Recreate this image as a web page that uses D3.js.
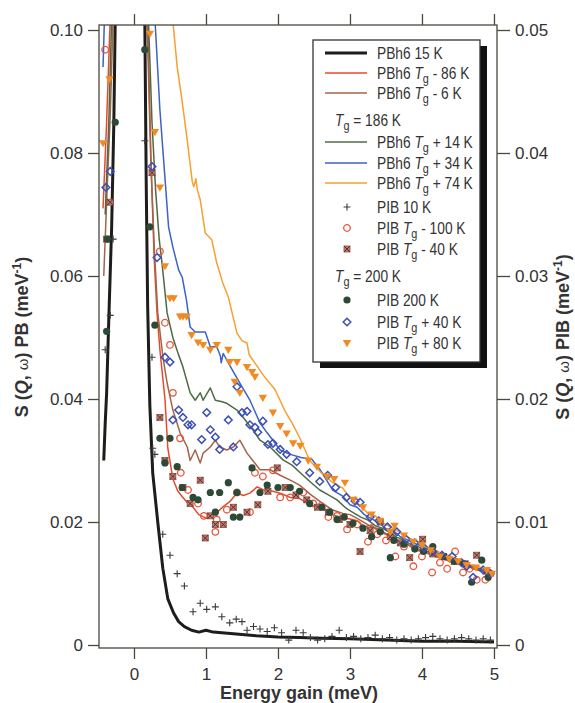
<!DOCTYPE html>
<html><head><meta charset="utf-8">
<script src="https://cdn.jsdelivr.net/npm/d3@7"></script>
<style>
html,body{margin:0;padding:0;background:#fff;}
svg{display:block;}
text{font-family:"Liberation Sans",Arial,sans-serif;fill:#333;}
</style></head>
<body>
<svg id="c" width="575" height="703"></svg>
<script>
// ---------- tick values ----------
const xTicks = [0, 1, 2, 3, 4, 5];
const yLeftTicks = [0, 0.02, 0.04, 0.06, 0.08, 0.10];
const yRightTicks = [0, 0.01, 0.02, 0.03, 0.04, 0.05];
const yLeftTickLabels = ["0", "0.02", "0.04", "0.06", "0.08", "0.10"];
const yRightTickLabels = ["0", "0.01", "0.02", "0.03", "0.04", "0.05"];

// ---------- PBh6 line series (left axis, meV^-1) ----------
const pb15K_left = [[-0.42,0.030],[-0.40,0.036],[-0.38,0.041],[-0.35,0.053],[-0.31,0.068],[-0.28,0.085],[-0.26,0.102]];
const pb15K_right = [[0.15,0.102],[0.17,0.075],[0.19,0.055],[0.22,0.039],[0.26,0.028],[0.33,0.020],[0.40,0.0125],[0.47,0.0075],[0.55,0.0052],[0.62,0.0038],[0.70,0.0030],[0.80,0.0024],[0.90,0.0021],[1.0,0.0024],[1.1,0.0021],[1.3,0.0019],[1.5,0.0017],[1.7,0.0015],[2.0,0.0013],[2.3,0.0012],[2.6,0.0011],[3.0,0.0010],[3.5,0.0008],[4.0,0.0006],[4.5,0.0006],[5.0,0.0005]];

const pbTgm86_left = [[-0.43,0.071],[-0.38,0.085],[-0.33,0.102]];
const pbTgm86_right = [[0.19,0.102],[0.24,0.077],[0.28,0.063],[0.32,0.054],[0.36,0.048],[0.43,0.040],[0.47,0.032],[0.54,0.027],[0.61,0.025],[0.68,0.024],[0.75,0.023],[0.82,0.0224],[0.90,0.0212],[1.01,0.0206],[1.08,0.0210],[1.15,0.0215],[1.24,0.0225],[1.33,0.0233],[1.43,0.0247],[1.52,0.0243],[1.61,0.0247],[1.71,0.0257],[1.80,0.0252],[1.93,0.0250],[2.05,0.0246],[2.17,0.0240],[2.30,0.0238],[2.45,0.0228],[2.60,0.0222],[2.75,0.0212],[2.90,0.0207],[3.0,0.0205],[3.1,0.0202],[3.2,0.0192],[3.3,0.0195],[3.4,0.0184],[3.5,0.0180],[3.6,0.0172],[3.7,0.0168],[3.8,0.0164],[3.9,0.0155],[4.0,0.0152],[4.1,0.0148],[4.2,0.0145],[4.3,0.0139],[4.4,0.0136],[4.5,0.0131],[4.6,0.0133],[4.7,0.0124],[4.8,0.0121],[4.9,0.0117],[5.0,0.0112]];

const pbTgm6_left = [[-0.42,0.060],[-0.37,0.075],[-0.33,0.086],[-0.29,0.102]];
const pbTgm6_right = [[0.18,0.102],[0.23,0.080],[0.28,0.065],[0.33,0.054],[0.40,0.047],[0.46,0.0426],[0.54,0.0382],[0.64,0.0345],[0.74,0.0322],[0.78,0.0300],[0.85,0.0317],[0.92,0.0296],[0.96,0.0312],[1.06,0.0322],[1.13,0.0333],[1.19,0.0322],[1.29,0.0317],[1.38,0.0322],[1.47,0.0333],[1.57,0.0312],[1.65,0.0300],[1.75,0.0285],[1.89,0.0285],[2.03,0.0276],[2.17,0.0268],[2.30,0.0260],[2.45,0.0245],[2.60,0.0232],[2.75,0.0220],[2.90,0.0214],[3.0,0.0212],[3.1,0.0206],[3.2,0.0199],[3.3,0.0192],[3.4,0.0189],[3.5,0.0181],[3.6,0.0176],[3.7,0.0167],[3.8,0.0163],[3.9,0.0158],[4.0,0.0154],[4.1,0.0149],[4.2,0.0143],[4.3,0.0141],[4.4,0.0135],[4.5,0.0132],[4.6,0.0128],[4.7,0.0126],[4.8,0.0121],[4.9,0.0118],[5.0,0.0116]];

const pbTgp14_left = [[-0.40,0.070],[-0.35,0.085],[-0.31,0.102]];
const pbTgp14_right = [[0.20,0.102],[0.25,0.085],[0.30,0.074],[0.35,0.066],[0.39,0.062],[0.46,0.054],[0.54,0.050],[0.61,0.0475],[0.68,0.0452],[0.78,0.0410],[0.85,0.0398],[0.92,0.0410],[0.96,0.0398],[1.06,0.0418],[1.13,0.0398],[1.21,0.0396],[1.29,0.0393],[1.43,0.0382],[1.51,0.0371],[1.65,0.0350],[1.75,0.0333],[1.89,0.0322],[2.07,0.0301],[2.20,0.0292],[2.31,0.0280],[2.45,0.0265],[2.58,0.0252],[2.70,0.0244],[2.82,0.0236],[2.95,0.0222],[3.05,0.0215],[3.15,0.0208],[3.25,0.0203],[3.35,0.0194],[3.45,0.0190],[3.55,0.0183],[3.65,0.0175],[3.75,0.0171],[3.85,0.0163],[3.95,0.0160],[4.05,0.0153],[4.15,0.0150],[4.25,0.0144],[4.35,0.0141],[4.45,0.0135],[4.55,0.0133],[4.65,0.0127],[4.75,0.0126],[4.85,0.0121],[4.95,0.0119]];

const pbTgp34_left = [[-0.43,0.094],[-0.41,0.102]];
const pbTgp34_right = [[0.29,0.102],[0.36,0.087],[0.43,0.076],[0.48,0.068],[0.54,0.0647],[0.62,0.0610],[0.67,0.0598],[0.73,0.0560],[0.78,0.0517],[0.85,0.0509],[0.99,0.0509],[1.06,0.0485],[1.15,0.0485],[1.20,0.0470],[1.21,0.0459],[1.24,0.0474],[1.29,0.0463],[1.47,0.0426],[1.61,0.0398],[1.75,0.0361],[1.85,0.0345],[1.93,0.0333],[2.03,0.0317],[2.17,0.0310],[2.32,0.0305],[2.47,0.0302],[2.58,0.0286],[2.76,0.0252],[2.90,0.0242],[3.0,0.0228],[3.1,0.0224],[3.2,0.0212],[3.3,0.0205],[3.4,0.0199],[3.5,0.0189],[3.6,0.0186],[3.7,0.0176],[3.8,0.0171],[3.9,0.0165],[4.0,0.0161],[4.1,0.0154],[4.2,0.0150],[4.3,0.0146],[4.4,0.0141],[4.5,0.0137],[4.6,0.0132],[4.7,0.0128],[4.8,0.0124],[4.9,0.0121],[5.0,0.0118]];

const pbTgp74_right = [[0.535,0.102],[0.60,0.094],[0.67,0.0883],[0.74,0.0820],[0.81,0.0753],[0.83,0.0745],[0.86,0.0758],[0.88,0.0740],[0.92,0.0724],[0.99,0.0670],[1.08,0.0659],[1.15,0.0621],[1.23,0.0590],[1.31,0.0566],[1.43,0.0507],[1.50,0.0495],[1.57,0.0491],[1.60,0.0472],[1.70,0.0455],[1.80,0.0438],[1.96,0.0415],[2.10,0.0380],[2.20,0.0360],[2.31,0.0335],[2.44,0.0300],[2.60,0.0280],[2.75,0.0265],[2.90,0.0255],[3.05,0.0232],[3.15,0.0226],[3.25,0.0214],[3.35,0.0210],[3.45,0.0199],[3.55,0.0193],[3.65,0.0186],[3.75,0.0180],[3.85,0.0172],[3.95,0.0168],[4.05,0.0160],[4.15,0.0157],[4.25,0.0150],[4.35,0.0147],[4.45,0.0140],[4.55,0.0137],[4.65,0.0131],[4.75,0.0129],[4.85,0.0124],[4.95,0.0121],[5.0,0.0118]];

// ---------- PIB marker series (right axis, meV^-1) ----------
const pib10K = [[-0.40,0.0240],[-0.33,0.0268],[-0.29,0.0330],[0.15,0.0410],[0.25,0.0234],[0.26,0.0160],[0.29,0.0155],[0.40,0.0090],[0.50,0.0073],[0.60,0.0058],[0.70,0.0048],[0.82,0.0027],[0.92,0.0034],[1.01,0.0029],[1.13,0.0031],[1.22,0.0023],[1.33,0.0018],[1.42,0.0021],[1.50,0.0019],[1.57,0.0012],[1.66,0.0015],[1.75,0.0013],[1.85,0.0011],[1.95,0.0014],[2.05,0.0010],[2.15,0.0004],[2.25,0.0012],[2.35,0.0010],[2.45,0.0006],[2.55,0.0004],[2.65,0.0005],[2.75,0.0007],[2.85,0.0012],[2.95,0.0006],[3.05,0.0007],[3.15,0.0005],[3.25,0.0006],[3.35,0.0008],[3.45,0.0005],[3.55,0.0006],[3.65,0.0004],[3.75,0.0005],[3.85,0.0004],[3.95,0.0005],[4.05,0.0006],[4.15,0.0007],[4.25,0.0005],[4.35,0.0004],[4.45,0.0005],[4.55,0.0006],[4.65,0.0005],[4.75,0.0004],[4.85,0.0005],[4.95,0.0004]];

const pibTgm100 = [[-0.40,0.0484],[0.36,0.0320],[0.43,0.0262],[0.50,0.0244],[0.54,0.0205],[0.64,0.0168],[0.65,0.0140],[0.75,0.0126],[0.89,0.0115],[0.97,0.0105],[1.13,0.0092],[1.15,0.0102],[1.29,0.0110],[1.43,0.0124],[1.61,0.0108],[1.68,0.0140],[1.79,0.0137],[1.93,0.0142],[2.03,0.0120],[2.17,0.0120],[2.35,0.0124],[2.49,0.0115],[2.60,0.0113],[2.70,0.0104],[2.82,0.0105],[2.96,0.0094],[3.10,0.0098],[3.25,0.0084],[3.38,0.0090],[3.50,0.0085],[3.63,0.0072],[3.75,0.0080],[3.88,0.0064],[4.00,0.0072],[4.14,0.0059],[4.25,0.0067],[4.35,0.0062],[4.46,0.0076],[4.57,0.0059],[4.66,0.0062],[4.76,0.0053],[4.88,0.0053],[4.95,0.0058]];

const pibTgm40 = [[-0.38,0.0330],[-0.33,0.0360],[0.25,0.0384],[0.36,0.0185],[0.43,0.0150],[0.54,0.0137],[0.68,0.0128],[0.78,0.0115],[0.92,0.0134],[0.99,0.0087],[1.06,0.0105],[1.13,0.0098],[1.24,0.0098],[1.38,0.0112],[1.57,0.0108],[1.72,0.0114],[1.86,0.0125],[1.99,0.0144],[2.10,0.0128],[2.25,0.0122],[2.40,0.0118],[2.55,0.0112],[2.70,0.0108],[2.85,0.0102],[3.00,0.0098],[3.14,0.0076],[3.28,0.0093],[3.42,0.0100],[3.56,0.0088],[3.70,0.0083],[3.83,0.0071],[4.01,0.0086],[4.15,0.0074],[4.30,0.0072],[4.45,0.0068],[4.60,0.0066],[4.76,0.0073],[4.90,0.0060]];

const pib200K = [[-0.38,0.0255],[-0.37,0.0330],[-0.26,0.0425],[0.15,0.0484],[0.22,0.0340],[0.29,0.0260],[0.36,0.0168],[0.43,0.0148],[0.50,0.0168],[0.60,0.0145],[0.67,0.0128],[0.82,0.0120],[0.89,0.0118],[1.06,0.0124],[1.13,0.0108],[1.19,0.0124],[1.31,0.0132],[1.38,0.0104],[1.43,0.0124],[1.47,0.0104],[1.64,0.0144],[1.75,0.0124],[1.85,0.0130],[2.00,0.0128],[2.17,0.0128],[2.30,0.0125],[2.44,0.0115],[2.61,0.0112],[2.72,0.0108],[2.82,0.0102],[2.92,0.0104],[3.04,0.0099],[3.18,0.0095],[3.30,0.0088],[3.42,0.0092],[3.56,0.0071],[3.61,0.0085],[3.75,0.0082],[3.90,0.0078],[4.02,0.0076],[4.15,0.0080],[4.30,0.0072],[4.45,0.0068],[4.58,0.0066],[4.69,0.0051],[4.83,0.0069],[4.92,0.0055]];

const pibTgp40 = [[-0.39,0.0372],[-0.33,0.0385],[0.25,0.0389],[0.32,0.0315],[0.43,0.0234],[0.50,0.0230],[0.54,0.0183],[0.62,0.0191],[0.68,0.0185],[0.75,0.0179],[0.80,0.0179],[0.94,0.0167],[1.01,0.0189],[1.06,0.0175],[1.13,0.0169],[1.19,0.0159],[1.31,0.0183],[1.38,0.0161],[1.43,0.0210],[1.50,0.0189],[1.57,0.0190],[1.61,0.0179],[1.68,0.0177],[1.72,0.0173],[1.79,0.0182],[1.86,0.0163],[1.93,0.0164],[2.03,0.0159],[2.12,0.0155],[2.26,0.0149],[2.44,0.0140],[2.58,0.0133],[2.69,0.0138],[2.80,0.0128],[2.95,0.0120],[3.07,0.0117],[3.14,0.0116],[3.28,0.0104],[3.40,0.0101],[3.52,0.0096],[3.65,0.0092],[3.78,0.0086],[3.90,0.0083],[4.03,0.0079],[4.15,0.0076],[4.28,0.0073],[4.42,0.0072],[4.55,0.0067],[4.62,0.0064],[4.71,0.0055],[4.85,0.0061],[4.95,0.0058]];

const pibTgp80 = [[-0.43,0.0408],[-0.34,0.0460],[0.22,0.0497],[0.29,0.0417],[0.36,0.0372],[0.43,0.0308],[0.50,0.0282],[0.55,0.0282],[0.64,0.0267],[0.68,0.0267],[0.73,0.0267],[0.80,0.0252],[0.89,0.0246],[0.96,0.0244],[1.06,0.0240],[1.15,0.0244],[1.31,0.0240],[1.33,0.0230],[1.40,0.0214],[1.43,0.0230],[1.47,0.0205],[1.57,0.0226],[1.64,0.0222],[1.68,0.0218],[1.79,0.0201],[1.93,0.0189],[2.03,0.0178],[2.12,0.0172],[2.21,0.0164],[2.31,0.0162],[2.42,0.0150],[2.54,0.0145],[2.68,0.0137],[2.78,0.0135],[2.93,0.0132],[3.05,0.0118],[3.18,0.0112],[3.30,0.0106],[3.42,0.0101],[3.56,0.0092],[3.62,0.0097],[3.75,0.0089],[3.88,0.0084],[4.00,0.0081],[4.12,0.0077],[4.25,0.0072],[4.38,0.0070],[4.50,0.0068],[4.62,0.0065],[4.75,0.0063],[4.90,0.0061],[4.97,0.0058]];

// ---------- scales ----------
const svg = d3.select("#c");
const x = d3.scaleLinear().domain([-0.486, 5.042]).range([99, 497]);
const yL = d3.scaleLinear().domain([0, 0.1]).range([645, 30]);
const yR = d3.scaleLinear().domain([0, 0.05]).range([645, 30]);
const frame = {x0: 99, x1: 497, y0: 25, y1: 648};

svg.append("defs").append("clipPath").attr("id", "clip")
  .append("rect").attr("x", frame.x0).attr("y", frame.y0)
  .attr("width", frame.x1 - frame.x0).attr("height", frame.y1 - frame.y0);

const plot = svg.append("g").attr("clip-path", "url(#clip)");
const lineL = d3.line().x(d => x(d[0])).y(d => yL(d[1]));

const colored = [
  [pbTgm86_left, pbTgm86_right, "#e64a2e"],
  [pbTgm6_left, pbTgm6_right, "#a3644a"],
  [pbTgp14_left, pbTgp14_right, "#4e6a44"],
  [pbTgp34_left, pbTgp34_right, "#3c62c6"],
  [null, pbTgp74_right, "#f5a030"]
];
colored.forEach(([l, r, c]) => {
  [l, r].forEach(arr => {
    if (!arr) return;
    plot.append("path").datum(arr).attr("d", lineL)
      .attr("fill", "none").attr("stroke", c).attr("stroke-width", 1.5)
      .attr("stroke-linejoin", "round");
  });
});
[pb15K_left, pb15K_right].forEach(arr => {
  plot.append("path").datum(arr).attr("d", lineL)
    .attr("fill", "none").attr("stroke", "#1d1d1b").attr("stroke-width", 3)
    .attr("stroke-linejoin", "round");
});

// marker drawers
function drawMarker(g, type) {
  if (type === "plus") {
    g.append("path").attr("d", "M-3.5,0H3.5M0,-3.5V3.5").attr("stroke", "#3a3a3a").attr("stroke-width", 1.1).attr("fill", "none");
  } else if (type === "ocircle") {
    g.append("circle").attr("r", 3.3).attr("fill", "none").attr("stroke", "#e8553a").attr("stroke-width", 1.3);
  } else if (type === "boxx") {
    g.append("rect").attr("x", -3).attr("y", -3).attr("width", 6).attr("height", 6).attr("fill", "#c07a6a").attr("stroke", "#8c4c42").attr("stroke-width", 0.8);
    g.append("path").attr("d", "M-3,-3L3,3M3,-3L-3,3").attr("stroke", "#5a2e2a").attr("stroke-width", 1);
  } else if (type === "fcircle") {
    g.append("circle").attr("r", 3.6).attr("fill", "#2d4a37");
  } else if (type === "diamond") {
    g.append("path").attr("d", "M0,-3.8L3.8,0L0,3.8L-3.8,0Z").attr("fill", "none").attr("stroke", "#3b4fb5").attr("stroke-width", 1.5);
  } else if (type === "tri") {
    g.append("path").attr("d", "M-4.2,-3L4.2,-3L0,4.2Z").attr("fill", "#f28a22");
  }
}
const markerSeries = [
  [pibTgm100, "ocircle"],
  [pibTgm40, "boxx"],
  [pib200K, "fcircle"],
  [pibTgp40, "diamond"],
  [pibTgp80, "tri"],
  [pib10K, "plus"]
];
markerSeries.forEach(([arr, type]) => {
  arr.forEach(d => {
    const g = plot.append("g").attr("transform", `translate(${x(d[0])},${yR(d[1])})`);
    drawMarker(g, type);
  });
});

// ---------- frame & axes ----------
svg.append("rect").attr("x", frame.x0).attr("y", frame.y0)
  .attr("width", frame.x1 - frame.x0).attr("height", frame.y1 - frame.y0)
  .attr("fill", "none").attr("stroke", "#4a4840").attr("stroke-width", 1.3);

function styleAxis(g) {
  g.select(".domain").remove();
  g.selectAll(".tick line").attr("stroke", "#4a4840").attr("stroke-width", 1.3);
  g.selectAll(".tick text").attr("fill", "#333").style("font-size", "17px")
    .style("font-family", '"Liberation Sans",Arial,sans-serif');
}
svg.append("g").attr("transform", `translate(${frame.x0},0)`)
  .call(d3.axisLeft(yL).tickValues(yLeftTicks).tickFormat((d, i) => yLeftTickLabels[i]).tickSize(11).tickPadding(5))
  .call(styleAxis);
svg.append("g").attr("transform", `translate(${frame.x1},0)`)
  .call(d3.axisRight(yR).tickValues(yRightTicks).tickFormat((d, i) => yRightTickLabels[i]).tickSize(13).tickPadding(5))
  .call(styleAxis);
svg.append("g").attr("transform", `translate(0,${frame.y1})`)
  .call(d3.axisBottom(x).tickValues(xTicks).tickFormat(d3.format("d")).tickSize(11).tickPadding(9))
  .call(styleAxis);
svg.append("g").attr("transform", `translate(0,${frame.y0})`)
  .call(d3.axisTop(x).tickValues(xTicks).tickFormat("").tickSize(11))
  .call(styleAxis);

// axis titles
svg.append("text").attr("x", 299).attr("y", 699).attr("text-anchor", "middle")
  .style("font-size", "18px").style("font-weight", "bold").text("Energy gain (meV)");

function yTitle(xpos, label) {
  const t = svg.append("text").attr("transform", `translate(${xpos},337) rotate(-90)`)
    .attr("text-anchor", "middle").style("font-size", "18px").style("font-weight", "bold");
  t.append("tspan").text("S (");
  t.append("tspan").style("font-style", "italic").text("Q");
  t.append("tspan").text(", ");
  t.append("tspan").style("font-weight", "normal").style("font-size", "15px").text("ω");
  t.append("tspan").text(") " + label + " (meV");
  t.append("tspan").attr("dy", -7).style("font-size", "12px").text("-1");
  t.append("tspan").attr("dy", 7).text(")");
}
yTitle(28, "PB");
yTitle(569, "PIB");

// ---------- legend ----------
const leg = svg.append("g").attr("class", "leg");
leg.append("rect").attr("x", 320).attr("y", 46).attr("width", 167).attr("height", 322).attr("fill", "#111");
leg.append("rect").attr("x", 313).attr("y", 40).attr("width", 167).attr("height", 322)
  .attr("fill", "#fff").attr("stroke", "#333").attr("stroke-width", 1.3);

const legendItems = [
  {y: 53, kind: "line", color: "#1d1d1b", w: 3, pre: "PBh6 15 K"},
  {y: 73, kind: "line", color: "#e64a2e", w: 1.5, pre: "PBh6 ", tg: true, post: " - 86 K"},
  {y: 93, kind: "line", color: "#a3644a", w: 1.5, pre: "PBh6 ", tg: true, post: " - 6 K"},
  {y: 120, kind: "head", post: " = 186 K"},
  {y: 142, kind: "line", color: "#4e6a44", w: 1.5, pre: "PBh6 ", tg: true, post: " + 14 K"},
  {y: 163, kind: "line", color: "#3c62c6", w: 1.5, pre: "PBh6 ", tg: true, post: " + 34 K"},
  {y: 183, kind: "line", color: "#f5a030", w: 1.5, pre: "PBh6 ", tg: true, post: " + 74 K"},
  {y: 207, kind: "plus", pre: "PIB 10 K"},
  {y: 228, kind: "ocircle", pre: "PIB ", tg: true, post: " - 100 K"},
  {y: 249, kind: "boxx", pre: "PIB ", tg: true, post: " - 40 K"},
  {y: 276, kind: "head", post: " = 200 K"},
  {y: 300, kind: "fcircle", pre: "PIB 200 K"},
  {y: 322, kind: "diamond", pre: "PIB ", tg: true, post: " + 40 K"},
  {y: 343, kind: "tri", pre: "PIB ", tg: true, post: " + 80 K"}
];
legendItems.forEach(it => {
  if (it.kind === "line") {
    leg.append("line").attr("x1", 325).attr("x2", 367).attr("y1", it.y).attr("y2", it.y)
      .attr("stroke", it.color).attr("stroke-width", it.w);
  } else if (it.kind !== "head") {
    drawMarker(leg.append("g").attr("transform", `translate(347,${it.y})`), it.kind);
  }
  const tx = it.kind === "head" ? 335 : 377;
  const t = leg.append("g").attr("transform", `translate(${tx},${it.y + 5.5}) scale(0.87,1)`)
    .append("text").attr("x", 0).attr("y", 0).style("font-size", "15.8px");
  if (it.kind === "head") {
    t.append("tspan").style("font-style", "italic").text("T");
    t.append("tspan").attr("dy", 4).style("font-size", "12.5px").text("g");
    t.append("tspan").attr("dy", -4).text(it.post);
  } else {
    t.append("tspan").text(it.pre);
    if (it.tg) {
      t.append("tspan").style("font-style", "italic").text("T");
      t.append("tspan").attr("dy", 4).style("font-size", "12.5px").text("g");
      t.append("tspan").attr("dy", -4).text(it.post);
    }
  }
});
</script>
</body></html>
